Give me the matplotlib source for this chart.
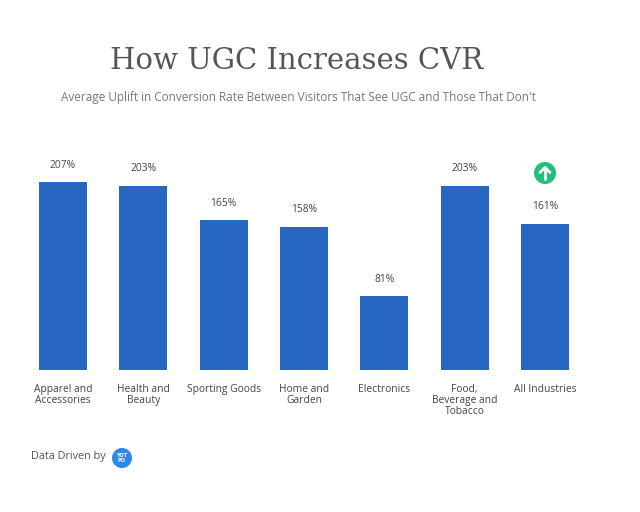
import matplotlib
matplotlib.use("Agg")
import matplotlib.pyplot as plt
from matplotlib.patches import Circle

categories = ["Apparel and\nAccessories", "Health and\nBeauty", "Sporting Goods",
              "Home and\nGarden", "Electronics", "Food,\nBeverage and\nTobacco", "All Industries"]
values = [207, 203, 165, 158, 81, 203, 161]
value_labels = ["207%", "203%", "165%", "158%", "81%", "203%", "161%"]

title = "How UGC Increases CVR"
subtitle = "Average Uplift in Conversion Rate Between Visitors That See UGC and Those That Don't"
footer = "Data Driven by"

W, H = 640, 512
fig = plt.figure(figsize=(W / 100, H / 100), dpi=100)
fig.patch.set_facecolor("white")

# main axes: bar baseline at y=370px, ~80px category spacing
ymax = 250
px_per_unit = 0.908
ax_h = ymax * px_per_unit
step = 80.33
ax = fig.add_axes([(63 - step / 2) / W, (H - 370) / H, 7 * step / W, ax_h / H])
x = list(range(len(values)))
ax.bar(x, values, width=48 / step, color="#2767c1")
ax.set_xlim(-0.5, 6.5)
ax.set_ylim(0, ymax)
for s in ax.spines.values():
    s.set_visible(False)
ax.set_yticks([])
ax.set_xticks(x)
ax.set_xticklabels(categories, fontfamily="Open Sans", fontsize=7.4, color="#444444",
                   linespacing=1.03)
ax.tick_params(axis="x", length=0, pad=10)

for xi, v, lab in zip(x, values, value_labels):
    ax.annotate(lab, (xi, v), xytext=(0, 17), textcoords="offset pixels",
                ha="center", va="center", fontfamily="Open Sans", fontsize=7.4,
                color="#444444")

# overlay in pixel coordinates for decorations
ov = fig.add_axes([0, 0, 1, 1])
ov.set_xlim(0, W)
ov.set_ylim(H, 0)
ov.axis("off")
ov.set_zorder(5)

ov.text(297, 61, title, ha="center", va="center", fontfamily="DejaVu Serif",
        fontsize=21, color="#555555")
ov.text(298, 98, subtitle, ha="center", va="center", fontfamily="Open Sans",
        fontsize=8.5, color="#777777")

# green up arrow icon above last bar
cx, cy = 545, 173
ov.add_patch(Circle((cx, cy), 11, color="#22c07a", lw=0))
ov.plot([cx, cx], [cy + 6, cy - 5.5], color="white", lw=2, solid_capstyle="round")
ov.plot([cx - 5, cx, cx + 5], [cy - 0.5, cy - 5.5, cy - 0.5], color="white", lw=2,
        solid_capstyle="round", solid_joinstyle="round")

# footer
ov.text(31, 457, footer, ha="left", va="center", fontfamily="Open Sans",
        fontsize=7.8, color="#555555")
ov.add_patch(Circle((122, 458), 10, color="#2f86ee", lw=0))
ov.text(122, 458, "YOT\nPO", ha="center", va="center", fontfamily="DejaVu Sans",
        fontsize=3.6, color="white", fontweight="bold", linespacing=0.9)

fig.savefig("out.png", dpi=100, facecolor="white")
